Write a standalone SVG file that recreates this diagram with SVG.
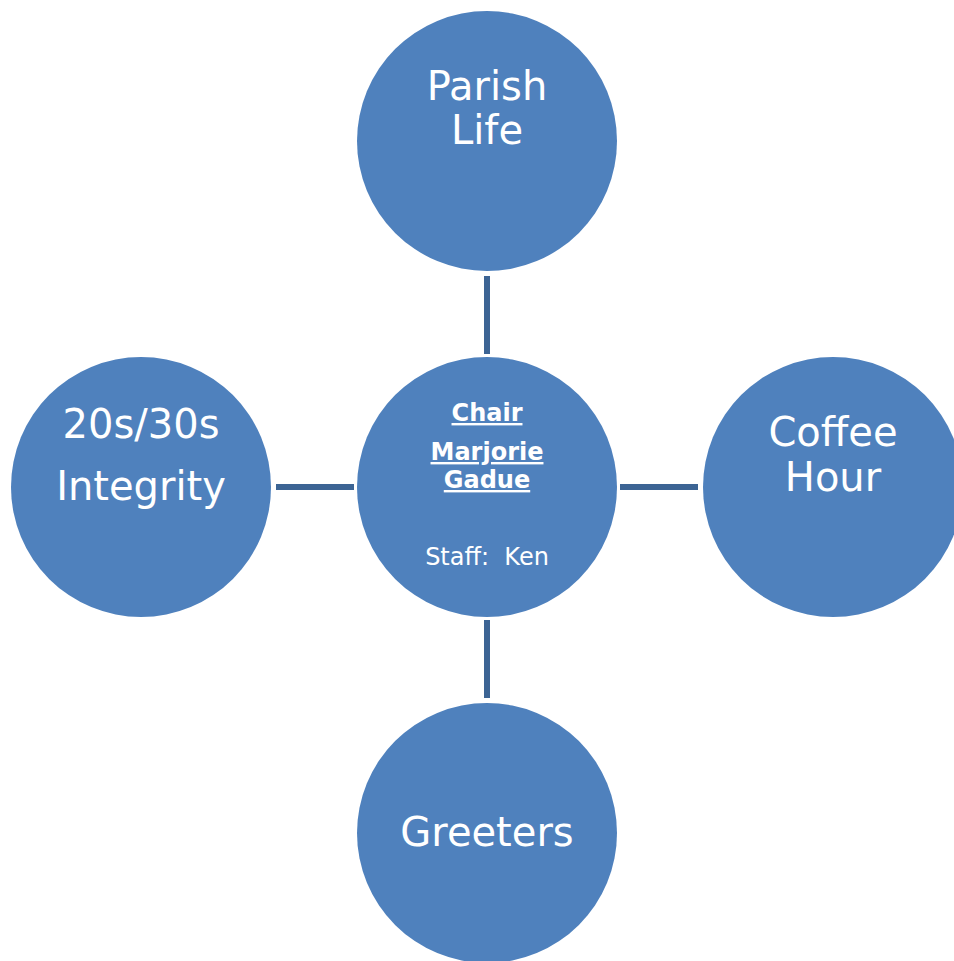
<svg xmlns="http://www.w3.org/2000/svg" width="954" height="961" viewBox="0 0 954 961">
<style>
.n{fill:#4F81BD}
.c{stroke:#3C6494;stroke-width:6;fill:none}
.t{font-family:"DejaVu Sans","Open Sans",sans-serif;fill:#fff;text-anchor:middle}
.big{font-size:40px}
.sm{font-size:24px}
.b{font-weight:bold;text-decoration:underline}
</style>
<rect width="954" height="961" fill="#fff"/>
<g id="connectors">
<line class="c" x1="487" y1="276" x2="487" y2="354"/>
<line class="c" x1="276" y1="487" x2="354" y2="487"/>
<line class="c" x1="620" y1="487" x2="698" y2="487"/>
<line class="c" x1="487" y1="620" x2="487" y2="698"/>
</g>
<g id="chair">
<circle class="n" cx="487" cy="487" r="130"/>
<text class="t sm b" x="487" y="421">Chair</text>
<text class="t sm b" x="487" y="460">Marjorie</text>
<text class="t sm b" x="487" y="488">Gadue</text>
<text class="t sm" x="487" y="565" xml:space="preserve">Staff:  Ken</text>
</g>
<g id="parish-life">
<circle class="n" cx="487" cy="141" r="130"/>
<text class="t big" x="487" y="100">Parish</text>
<text class="t big" x="487" y="144">Life</text>
</g>
<g id="coffee-hour">
<circle class="n" cx="833" cy="487" r="130"/>
<text class="t big" x="833" y="446">Coffee</text>
<text class="t big" x="833" y="491">Hour</text>
</g>
<g id="integrity">
<circle class="n" cx="141" cy="487" r="130"/>
<text class="t big" x="141" y="438">20s/30s</text>
<text class="t big" x="141" y="500">Integrity</text>
</g>
<g id="greeters">
<circle class="n" cx="487" cy="833" r="130"/>
<text class="t big" x="487" y="846">Greeters</text>
</g>
</svg>
